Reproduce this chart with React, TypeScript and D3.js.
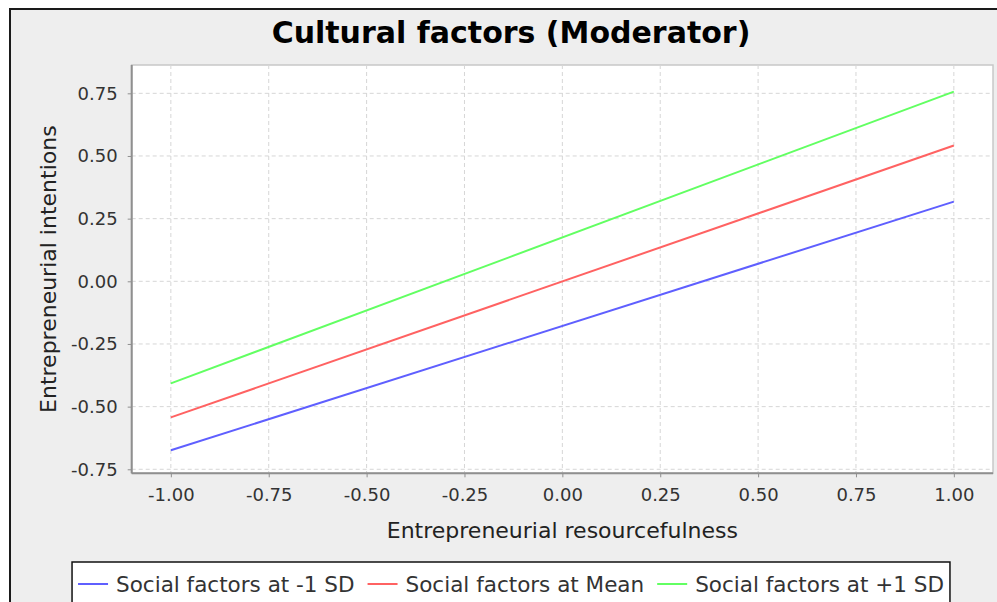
import { useEffect, useRef } from "react"
import * as d3 from "d3"

// x values at which every simple slope is drawn
const xValues = [-1, 1]

const seriesNames = ["Social factors at -1 SD", "Social factors at Mean", "Social factors at +1 SD"]
const lowValues = [-0.674, 0.318]
const meanValues = [-0.543, 0.542]
const highValues = [-0.407, 0.757]
const seriesColors = ["#5f5fff", "#ff6262", "#62ff62"]

const tickValues = [-1, -0.75, -0.5, -0.25, 0, 0.25, 0.5, 0.75, 1]
const yTickValues = [-0.75, -0.5, -0.25, 0, 0.25, 0.5, 0.75]

const FONT = "'DejaVu Sans', sans-serif"

const App = () => {
  const svgRef = useRef<SVGSVGElement | null>(null)

  useEffect(() => {
    if (!svgRef.current) return
    const svg = d3.select(svgRef.current)
    svg.selectAll("*").remove()

    const width = 997
    const height = 602
    const panel = { left: 10, top: 9, right: 1012 }
    const plot = { left: 131.7, top: 65, right: 993, bottom: 473.3 }
    const centerX = (panel.left + panel.right) / 2

    // chart panel background with dark frame
    svg.append("rect").attr("width", width).attr("height", height).attr("fill", "#ffffff")
    svg
      .append("rect")
      .attr("x", panel.left)
      .attr("y", panel.top)
      .attr("width", panel.right - panel.left)
      .attr("height", height)
      .attr("fill", "#eeeeee")
      .attr("stroke", "#1a1a1a")
      .attr("stroke-width", 2)

    // title
    svg
      .append("text")
      .attr("x", centerX)
      .attr("y", 43)
      .attr("text-anchor", "middle")
      .style("font-family", FONT)
      .style("font-weight", "bold")
      .style("font-size", "30px")
      .attr("fill", "#000")
      .text("Cultural factors (Moderator)")

    const xScale = d3.scaleLinear().domain([-1.1, 1.1]).range([plot.left, plot.right])
    const yScale = d3.scaleLinear().domain([-0.766, 0.863]).range([plot.bottom, plot.top])

    // plot background
    svg
      .append("rect")
      .attr("x", plot.left)
      .attr("y", plot.top)
      .attr("width", plot.right - plot.left)
      .attr("height", plot.bottom - plot.top)
      .attr("fill", "#ffffff")
      .attr("stroke", "#c8c8c8")
      .attr("stroke-width", 1.5)

    // grid lines
    const grid = svg.append("g")
    grid
      .selectAll("line.vgrid")
      .data(tickValues)
      .join("line")
      .attr("x1", (d) => xScale(d))
      .attr("x2", (d) => xScale(d))
      .attr("y1", plot.top)
      .attr("y2", plot.bottom)
      .attr("stroke", "#d6d6d6")
      .attr("stroke-dasharray", "4,3")
    grid
      .selectAll("line.hgrid")
      .data(yTickValues)
      .join("line")
      .attr("y1", (d) => yScale(d))
      .attr("y2", (d) => yScale(d))
      .attr("x1", plot.left)
      .attr("x2", plot.right)
      .attr("stroke", "#d6d6d6")
      .attr("stroke-dasharray", "4,3")

    // x axis
    const xAxis = svg
      .append("g")
      .attr("transform", `translate(0,${plot.bottom})`)
      .call(
        d3
          .axisBottom(xScale)
          .tickValues(tickValues)
          .tickSize(4)
          .tickPadding(11)
          .tickFormat((d) => d3.format(".2f")(d as number).replace("−", "-")),
      )
    xAxis.select(".domain").attr("stroke", "#8f8f8f").attr("stroke-width", 2).attr("d", `M${plot.left},0H${plot.right}`)
    xAxis.selectAll(".tick line").attr("stroke", "#8f8f8f")
    xAxis
      .selectAll(".tick text")
      .style("font-family", FONT)
      .style("font-size", "18px")
      .attr("fill", "#333")

    // y axis
    const yAxis = svg
      .append("g")
      .attr("transform", `translate(${plot.left},0)`)
      .call(
        d3
          .axisLeft(yScale)
          .tickValues(yTickValues)
          .tickSize(4)
          .tickPadding(10)
          .tickFormat((d) => d3.format(".2f")(d as number).replace("−", "-")),
      )
    yAxis.select(".domain").attr("stroke", "#8f8f8f").attr("stroke-width", 2).attr("d", `M0,${plot.top}V${plot.bottom}`)
    yAxis.selectAll(".tick line").attr("stroke", "#8f8f8f")
    yAxis
      .selectAll(".tick text")
      .style("font-family", FONT)
      .style("font-size", "18px")
      .attr("fill", "#333")

    // axis labels
    svg
      .append("text")
      .attr("x", (plot.left + plot.right) / 2)
      .attr("y", 538)
      .attr("text-anchor", "middle")
      .style("font-family", FONT)
      .style("font-size", "22px")
      .attr("fill", "#222")
      .text("Entrepreneurial resourcefulness")
    svg
      .append("text")
      .attr("transform", `translate(56,${(plot.top + plot.bottom) / 2}) rotate(-90)`)
      .attr("text-anchor", "middle")
      .style("font-family", FONT)
      .style("font-size", "22px")
      .attr("fill", "#222")
      .text("Entrepreneurial intentions")

    // slopes
    const allSeries = [lowValues, meanValues, highValues]
    const line = d3
      .line<number>()
      .x((_, i) => xScale(xValues[i]))
      .y((d) => yScale(d))
    allSeries.forEach((values, i) => {
      svg
        .append("path")
        .datum(values)
        .attr("fill", "none")
        .attr("stroke", seriesColors[i])
        .attr("stroke-width", 2)
        .attr("d", line)
    })

    // legend, items flowed from measured text widths
    const legend = svg.append("g")
    const legendBox = legend
      .append("rect")
      .attr("fill", "#ffffff")
      .attr("stroke", "#111")
      .attr("stroke-width", 1.5)
    const items = legend.append("g")
    let cursor = 0
    seriesNames.forEach((name, i) => {
      const item = items.append("g").attr("transform", `translate(${cursor},0)`)
      item
        .append("line")
        .attr("x1", 0)
        .attr("x2", 30)
        .attr("y1", 0)
        .attr("y2", 0)
        .attr("stroke", seriesColors[i])
        .attr("stroke-width", 2)
      const label = item
        .append("text")
        .attr("x", 38)
        .attr("y", 8)
        .style("font-family", FONT)
        .style("font-size", "21.5px")
        .attr("fill", "#333")
        .text(name)
      const w = (label.node() as SVGTextElement).getComputedTextLength()
      cursor += 38 + w + 13
    })
    const itemsWidth = cursor - 13
    const boxWidth = itemsWidth + 12
    const boxLeft = centerX - boxWidth / 2
    items.attr("transform", `translate(${boxLeft + 6},584)`)
    legendBox.attr("x", boxLeft).attr("y", 562).attr("width", boxWidth).attr("height", 60)
  }, [])

  return (
    <div style={{ position: "absolute", left: 0, top: 0 }}>
      <svg ref={svgRef} width={997} height={602} style={{ display: "block" }} />
    </div>
  )
}

export default App
